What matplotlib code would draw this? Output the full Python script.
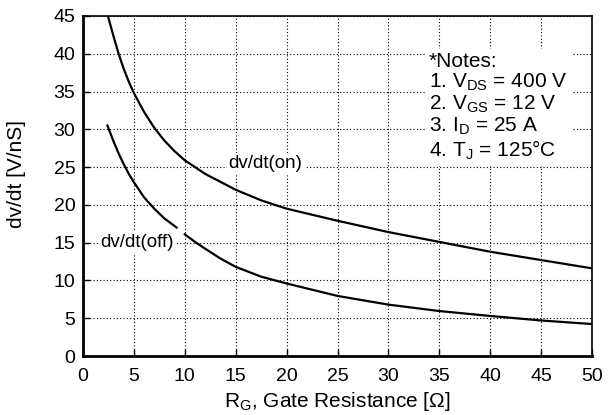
import matplotlib
matplotlib.use("Agg")
import matplotlib.pyplot as plt

# Values
rg_on = [2.45, 3, 3.5, 4, 4.5, 5, 6, 7, 8, 9, 10, 12, 15, 17.5, 20, 25, 30, 35, 40, 45, 50]
dvdt_on = [45, 42.3, 40.0, 38.0, 36.3, 34.8, 32.3, 30.2, 28.5, 27.1, 25.9, 24.1, 22.0, 20.6, 19.5, 17.9, 16.4, 15.1, 13.8, 12.7, 11.6]

# the off curve is broken where the "dv/dt(off)" label sits (nan = gap)
rg_off = [2.4, 3, 3.5, 4, 4.5, 5, 6, 7, 8, 9.2, 9.6, 10, 11, 12, 13.5, 15, 17.5, 20, 25, 30, 35, 40, 45, 50]
dvdt_off = [30.5, 28.4, 26.8, 25.4, 24.1, 23.0, 21.0, 19.5, 18.2, 17.0, float("nan"), 16.1, 15.1, 14.2, 12.9, 11.8, 10.5, 9.6, 7.95, 6.8, 5.95, 5.3, 4.7, 4.23]

x_ticks = list(range(0, 51, 5))
y_ticks = list(range(0, 46, 5))

notes = ("*Notes:\n"
         "1. V$_\\mathrm{DS}$ = 400 V\n"
         "2. V$_\\mathrm{GS}$ = 12 V\n"
         "3. I$_\\mathrm{D}$ = 25 A\n"
         "4. T$_\\mathrm{J}$ = 125°C")

plt.rcParams["font.family"] = ["Liberation Sans", "DejaVu Sans"]
plt.rcParams["mathtext.fontset"] = "custom"
plt.rcParams["mathtext.rm"] = "Liberation Sans"
plt.rcParams["mathtext.it"] = "Liberation Sans:italic"

fig = plt.figure(figsize=(6.13, 4.15), dpi=100)
ax = fig.add_axes([83 / 613, 1 - 356 / 415, (592 - 83) / 613, (356 - 16) / 415])

ax.plot(rg_on, dvdt_on, color="black", linewidth=1.6, zorder=2)
ax.plot(rg_off, dvdt_off, color="black", linewidth=1.6, zorder=2)

ax.set_xlim(0, 50)
ax.set_ylim(0, 45)
ax.set_xticks(x_ticks)
ax.set_yticks(y_ticks)
ax.grid(True, color="black", linestyle=(0, (1, 2)), linewidth=0.8)
ax.set_axisbelow(True)

ax.tick_params(axis="x", direction="in", length=5, width=1, pad=8.5, labelsize=14)
ax.tick_params(axis="y", direction="in", length=5, width=1, pad=5.5, labelsize=14)

ax.spines["left"].set_linewidth(2)
ax.spines["bottom"].set_linewidth(2)
ax.spines["top"].set_linewidth(1.2)
ax.spines["right"].set_linewidth(1.2)

ax.set_xlabel("R$_\\mathrm{G}$, Gate Resistance [Ω]", fontsize=15, labelpad=4)
ax.set_ylabel("dv/dt [V/nS]", fontsize=15)
ax.yaxis.set_label_coords(-0.112, 0.535)

box = dict(facecolor="white", edgecolor="none", pad=1.5)
ax.text(14.3, 25.5, "dv/dt(on)", fontsize=13.5, ha="left", va="center", bbox=box, zorder=3)
ax.text(1.7, 15.0, "dv/dt(off)", fontsize=13.5, ha="left", va="center", bbox=box, zorder=3)
ax.text(34.0, 40.3, notes, fontsize=15, ha="left", va="top", linespacing=1.06,
        bbox=dict(facecolor="white", edgecolor="none", pad=3), zorder=3)

fig.savefig("out.png", dpi=100)
